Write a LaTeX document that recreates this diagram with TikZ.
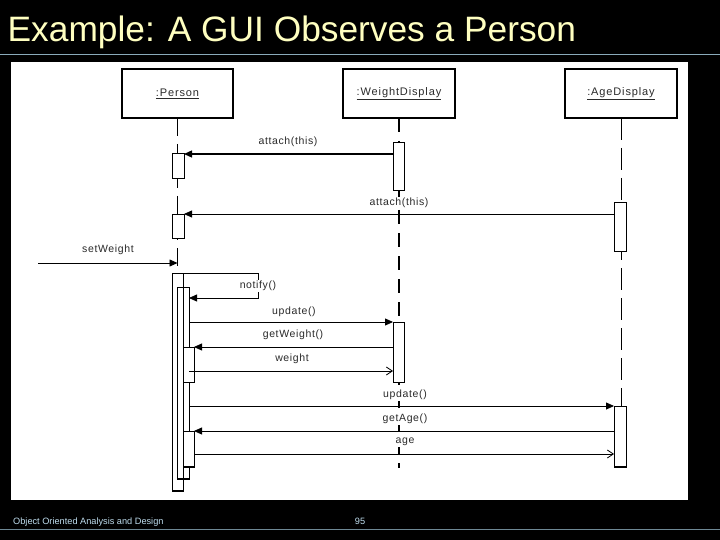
\documentclass[tikz,border=0pt]{standalone}
\usepackage{fontspec}
\setmainfont{Liberation Sans}
\newfontfamily\lblfont[LetterSpace=6]{Liberation Sans}
\newfontfamily\hdrfont[LetterSpace=8]{Liberation Sans}
\usetikzlibrary{arrows.meta}
\definecolor{titleyellow}{HTML}{FFFFC0}
\definecolor{rulecol}{HTML}{8AAABA}
\definecolor{footcol}{HTML}{BFDDEE}
\definecolor{lblcol}{HTML}{2A2A2A}
\begin{document}
\begin{tikzpicture}[x=1pt,y=-1pt,
  hdr/.style={draw, line width=1.6pt, inner sep=0pt, outer sep=0pt, fill=white},
  act/.style={draw, line width=0.9pt, inner sep=0pt, outer sep=0pt, fill=white},
  actline/.style={draw, line width=0.9pt, inner sep=0pt, outer sep=0pt},
  lbl/.style={font=\lblfont\fontsize{10.5}{12}\selectfont, text=lblcol, fill=white, inner sep=0.8pt},
  hlbl/.style={font=\hdrfont\fontsize{11}{13}\selectfont, text=lblcol, inner sep=0pt},
  msg/.style={line width=0.8pt, -{Triangle[length=8pt,width=7pt]}},
  ret/.style={line width=0.8pt, -{Straight Barb[length=6pt,width=8pt]}},
  lifethin/.style={line width=0.8pt, dash pattern=on 18pt off 8pt},
  lifethick/.style={line width=2.2pt, dash pattern=on 14pt off 9pt},
  lifeage/.style={line width=0.8pt, dash pattern=on 22pt off 8pt},
  botedge/.style={line width=1.8pt},
]
% background and frame
\fill[black] (0,0) rectangle (720,540);
\useasboundingbox (0,0) rectangle (720,540);
\fill[white] (11,62) rectangle (688,500);
\draw[rulecol, line width=1pt] (0,55) -- (720,55);
\draw[rulecol!80!black, line width=1pt] (0,529) -- (720,529);

% title and footer
\node[anchor=base west, font=\fontsize{35.3}{40}\selectfont, text=titleyellow, inner sep=0pt] (title) at (7.5,42) {Example: A GUI Observes a Person};
\node[anchor=base west, font=\fontsize{9.2}{11}\selectfont, text=footcol, inner sep=0pt] (foot) at (13,524) {Object Oriented Analysis and Design};
\node[anchor=base, font=\fontsize{9.2}{11}\selectfont, text=footcol, inner sep=0pt] (page) at (360,524) {95};

% headers
\node[hdr, minimum width=111pt, minimum height=49pt] (hP) at (177.5,93.5) {};
\node[hdr, minimum width=112pt, minimum height=49pt] (hW) at (399,93.5) {};
\node[hdr, minimum width=112pt, minimum height=49pt] (hA) at (621,93.5) {};
\node[hlbl] (tP) at (hP.center) {\underline{:Person}};
\node[hlbl] (tW) at (hW.center) {\underline{:WeightDisplay}};
\node[hlbl] (tA) at (hA.center) {\underline{:AgeDisplay}};

% lifelines
\coordinate (pend) at (177.5,491);
\coordinate (wend) at (399,468);
\coordinate (aend) at (620,467);
\draw[lifethin] (hP.south) -- (hP.south |- pend);
\draw[lifethick] (hW.south) -- (hW.south |- wend);
\draw[lifeage] (hA.south) -- (hA.south |- aend);

% activation boxes
\node[act, minimum width=12pt, minimum height=25pt] (p1) at (178,165.5) {};
\node[act, minimum width=12pt, minimum height=24pt] (p2) at (178,226) {};
\node[act, minimum width=11pt, minimum height=218pt] (pO) at (177.5,382) {};
\node[actline, minimum width=12pt, minimum height=192pt] (pN) at (183,383) {};
\node[act, minimum width=11pt, minimum height=35pt] (pG) at (188.5,364.5) {};
\node[act, minimum width=11pt, minimum height=36pt] (pA) at (188.5,449) {};
\node[act, minimum width=11pt, minimum height=48pt] (w1) at (398.5,166) {};
\node[act, minimum width=11pt, minimum height=60pt] (w2) at (398.5,352) {};
\node[act, minimum width=12pt, minimum height=49pt] (a1) at (620,226.5) {};
\node[act, minimum width=12pt, minimum height=61pt] (a2) at (620,436.5) {};
\draw[botedge] (pO.south west) -- (pO.south east);
\draw[botedge] (pN.south west) -- (pN.south east);
\draw[botedge] (pA.south west) -- (pA.south east);
\draw[botedge] (a2.south west) -- (a2.south east);

% messages
\coordinate (at1) at (300,154);
\draw[msg, line width=1.3pt] (at1 -| w1.west) -- (at1 -| p1.east);
\node[lbl] (lat1) at (288,142) {attach(this)};

\draw[msg] (p2.north east -| a1.west) -- (p2.north east);
\node[lbl] (lat2) at (399,203) {attach(this)};

\coordinate (swS) at (38,263);
\draw[msg] (swS) -- (swS -| hP.south);
\node[lbl] (lsw) at (108,250) {setWeight};

\coordinate (nc) at (258,298);
\draw[msg] (pO.north east) -| (nc) -- (nc -| pN.east);
\node[lbl] (lnt) at (258,286) {notify()};

\draw[msg] (pN.east |- w2.north) -- (w2.north west);
\node[lbl] (lup1) at (294,312) {update()};

\draw[msg] (w2.west |- pG.north) -- (pG.north east);
\node[lbl] (lgw) at (293,335) {getWeight()};

\coordinate (rw) at (300,371);
\draw[ret] (rw -| pN.east) -- (rw -| w2.west);
\node[lbl] (lw) at (292,359) {weight};

\draw[msg] (pN.east |- a2.north) -- (a2.north west);
\node[lbl] (lup2) at (405,395) {update()};

\draw[msg] (a2.west |- pA.north) -- (pA.north east);
\node[lbl] (lga) at (405,419) {getAge()};

\coordinate (ra) at (400,454);
\draw[ret] (ra -| pA.east) -- (ra -| a2.west);
\node[lbl] (lage) at (405,442) {age};
\end{tikzpicture}
\end{document}
